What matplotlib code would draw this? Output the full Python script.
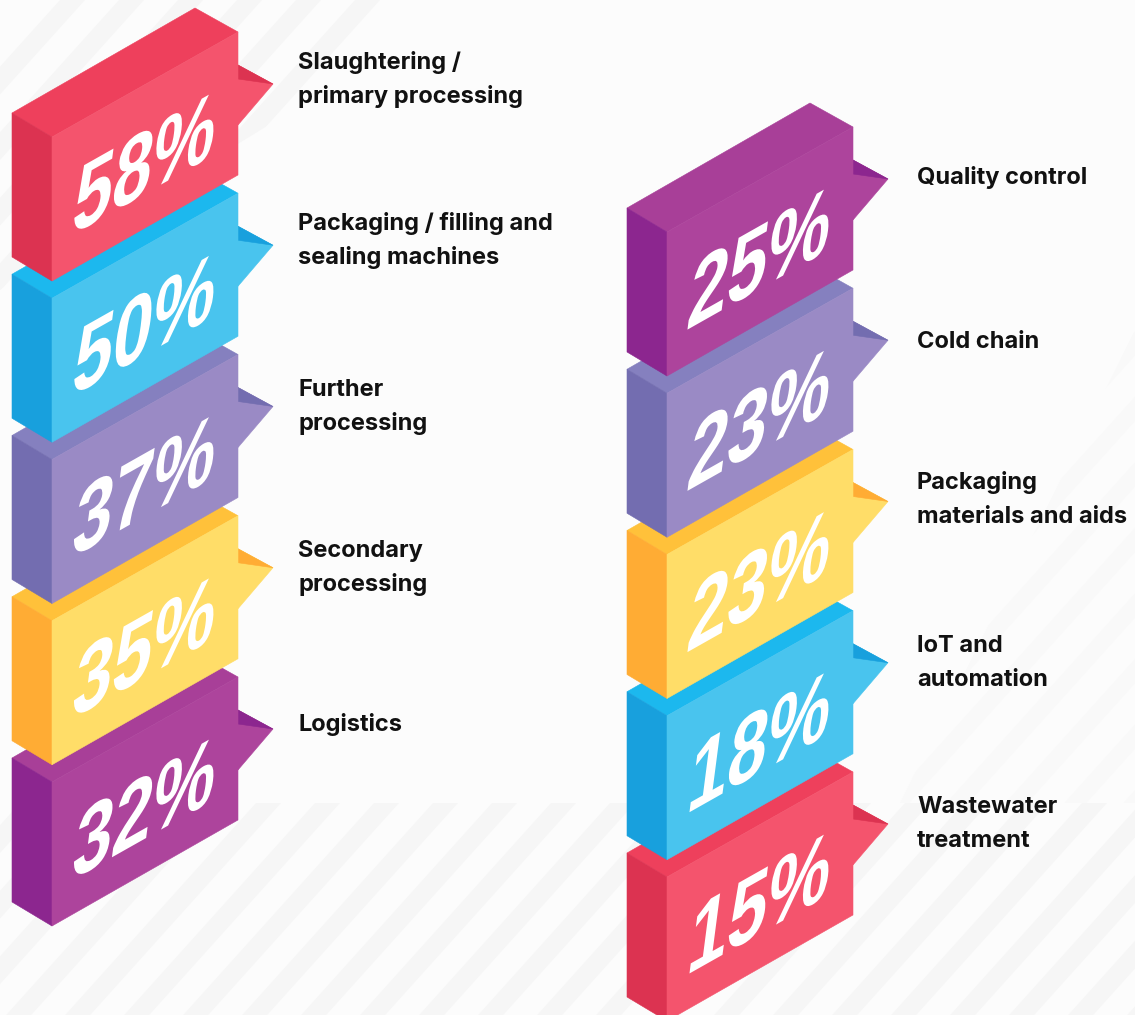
import matplotlib
matplotlib.use('Agg')
import matplotlib.pyplot as plt
import matplotlib.patheffects as pe
from matplotlib.patches import Polygon
from matplotlib.transforms import Affine2D

# values, top to bottom
left_values = [58, 50, 37, 35, 32]
right_values = [25, 23, 23, 18, 15]
left_colors = ['red', 'blue', 'lilac', 'yellow', 'magenta']
right_colors = ['magenta', 'lilac', 'yellow', 'blue', 'red']
left_labels = [['Slaughtering /', 'primary processing'],
               ['Packaging / filling and', 'sealing machines'],
               ['Further', 'processing'],
               ['Secondary', 'processing'],
               ['Logistics']]
right_labels = [['Quality control'],
                ['Cold chain'],
                ['Packaging', 'materials and aids'],
                ['IoT and', 'automation'],
                ['Wastewater', 'treatment']]
left_label_y = [69, 230, 396, 557, 731]
right_label_y = [184, 348, 489, 652, 813]

# front, top, side/flag shadow
palette = {
    'red': ('#f4546d', '#ee405c', '#dc3351'),
    'blue': ('#49c4ee', '#1cb8ee', '#18a0dd'),
    'lilac': ('#9a8ac5', '#8580bf', '#736db0'),
    'yellow': ('#ffdd68', '#ffc13a', '#ffac34'),
    'magenta': ('#ad449c', '#a83f98', '#8c268f'),
}

STEP = 161.25
LEFT_ORIGIN = (0, 0)
RIGHT_ORIGIN = (615, 95)
BACK = '#fcfcfc'
STRIPE = '#f6f6f6'


class IsoText(pe.AbstractPathEffect):
    # squeezes and shears the glyphs onto the front face of a block
    def __init__(self, x0, y0, slope=0.565, lean=0.13, squeeze=0.72):
        super().__init__()
        self.m = Affine2D.from_values(squeeze, slope * squeeze, lean, 1,
                                      x0 - squeeze * x0 - lean * y0,
                                      -slope * squeeze * x0)

    def draw_path(self, renderer, gc, tpath, affine, rgbFace=None):
        renderer.draw_path(gc, tpath, affine + self.m, rgbFace)


def shape(points, ox, oy, color, zorder):
    pts = [(x + ox, y + oy) for x, y in points]
    ax.add_patch(Polygon(pts, closed=True, fc=color, ec=color, lw=0.4, zorder=zorder))


def block(ox, oy, value, colors, z):
    front, top, side = colors
    shape([(238, 65), (273, 84), (238, 125)], ox, oy, front, z)
    shape([(238, 65), (273, 84), (238, 79)], ox, oy, side, z)
    shape([(12, 113), (195, 8), (238, 32), (52, 137)], ox, oy, top, z)
    shape([(12, 113), (52, 137), (52, 281), (12, 257)], ox, oy, side, z)
    shape([(52, 137), (238, 32), (238, 175), (52, 281)], ox, oy, front, z)
    x0, y0 = ox + 70, oy + 236
    dx, dy = ax.transData.transform((x0, y0))
    ax.text(x0, y0, '%d%%' % value, color='white', fontsize=71, fontweight='bold',
            family='Liberation Sans', ha='left', va='baseline',
            zorder=z, path_effects=[IsoText(dx, dy)])


def stripes(region, xs, width, slope=0.9, color=STRIPE):
    clip = Polygon(region, closed=True, transform=ax.transData)
    ys = [p[1] for p in region]
    y0, y1 = min(ys), max(ys)
    for x in xs:
        b = ax.fill([x, x + width, x + width - slope * (y1 - y0), x - slope * (y1 - y0)],
                    [y0, y0, y1, y1], color=color, lw=0, zorder=1)[0]
        b.set_clip_path(clip)


fig = plt.figure(figsize=(11.35, 10.15), dpi=100, facecolor=BACK)
ax = fig.add_axes([0, 0, 1, 1])
ax.set_xlim(0, 1135)
ax.set_ylim(1015, 0)
ax.axis('off')

# background bands
stripes([(0, 803), (1135, 803), (1135, 1015), (0, 1015)], range(20, 1500, 59), 25)
stripes([(0, 0), (405, 0), (285, 115), (0, 290)], range(60, 900, 59), 25)
stripes([(1135, 330), (1135, 803), (900, 803)], range(900, 1700, 59), 22, color='#f9f9f9')

for values, colors, labels, label_y, origin, label_x in [
        (left_values, left_colors, left_labels, left_label_y, LEFT_ORIGIN, 298),
        (right_values, right_colors, right_labels, right_label_y, RIGHT_ORIGIN, 917)]:
    ox, oy = origin
    for i, v in enumerate(values):
        # lower blocks go first, the one above sits on top
        block(ox, oy + i * STEP, v, palette[colors[i]], 10 + 5 - i)
        for j, line in enumerate(labels[i]):
            ax.text(label_x, label_y[i] + j * 34, line, color='#111111', fontsize=17,
                    fontweight='bold', family='Inter', ha='left', va='baseline', zorder=20)

fig.savefig('out.png', dpi=100, facecolor=BACK)
